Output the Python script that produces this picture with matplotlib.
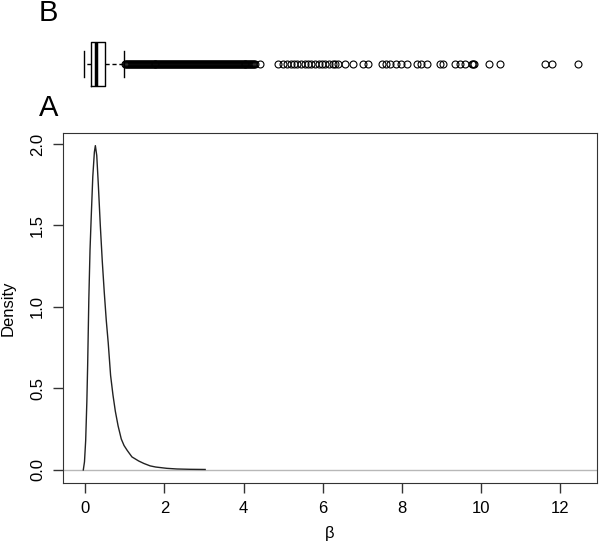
import matplotlib
matplotlib.use("Agg")
import matplotlib.pyplot as plt

plt.rcParams['font.family'] = ['Liberation Sans', 'DejaVu Sans']

# density curve of beta
beta_x = [-0.05, -0.02, 0.01, 0.04, 0.06, 0.09, 0.12, 0.15, 0.19, 0.23, 0.255,
          0.29, 0.33, 0.38, 0.43, 0.48, 0.53, 0.58, 0.64, 0.70, 0.76, 0.83,
          0.91, 0.98, 1.06, 1.18, 1.35, 1.48, 1.64, 1.78, 2.06, 2.32, 2.65, 3.03]
density = [0.0, 0.05, 0.18, 0.42, 0.64, 1.05, 1.35, 1.55, 1.80, 1.95, 1.99,
           1.93, 1.75, 1.50, 1.28, 1.09, 0.92, 0.78, 0.58, 0.46, 0.36, 0.27,
           0.19, 0.15, 0.12, 0.08, 0.055, 0.04, 0.025, 0.018, 0.01, 0.006,
           0.004, 0.003]

# boxplot summary
box_low = -0.03
box_q1 = 0.14
box_med = 0.27
box_q3 = 0.49
box_high = 0.97

# outliers: the dense run between 1 and 4.3, then the scattered ones
outliers = [
    1.000, 1.025, 1.050, 1.075, 1.100, 1.125, 1.150, 1.175, 1.200, 1.225,
    1.250, 1.275, 1.300, 1.325, 1.350, 1.375, 1.400, 1.425, 1.450, 1.475,
    1.500, 1.525, 1.550, 1.575, 1.600, 1.625, 1.650, 1.675, 1.700, 1.725,
    1.750, 1.775, 1.800, 1.825, 1.850, 1.875, 1.900, 1.925, 1.950, 1.975,
    2.000, 2.025, 2.050, 2.075, 2.100, 2.125, 2.150, 2.175, 2.200, 2.225,
    2.250, 2.275, 2.300, 2.325, 2.350, 2.375, 2.400, 2.425, 2.450, 2.475,
    2.500, 2.525, 2.550, 2.575, 2.600, 2.625, 2.650, 2.675, 2.700, 2.725,
    2.750, 2.775, 2.800, 2.825, 2.850, 2.875, 2.900, 2.925, 2.950, 2.975,
    3.000, 3.025, 3.050, 3.075, 3.100, 3.125, 3.150, 3.175, 3.200, 3.225,
    3.250, 3.275, 3.300, 3.325, 3.350, 3.375, 3.400, 3.425, 3.450, 3.475,
    3.500, 3.525, 3.550, 3.575, 3.600, 3.625, 3.650, 3.675, 3.700, 3.725,
    3.750, 3.775, 3.800, 3.825, 3.850, 3.875, 3.900, 3.925, 3.950, 3.975,
    4.000, 4.025, 4.050, 4.075, 4.100, 4.125, 4.150, 4.175, 4.200, 4.225,
    4.250, 4.275, 4.300,
    4.42, 4.88, 5.00, 5.10, 5.20, 5.28, 5.35, 5.45, 5.55, 5.62,
    5.70, 5.80, 5.90, 5.98, 6.05, 6.15, 6.25, 6.32, 6.40, 6.57, 6.77,
    7.02, 7.15, 7.50, 7.60, 7.71, 7.86, 7.98, 8.14, 8.39, 8.49, 8.64,
    8.97, 9.05, 9.35, 9.47, 9.60, 9.78, 9.80, 9.82, 10.21, 10.49,
    11.62, 11.80, 12.46]

x_ticks = [0, 2, 4, 6, 8, 10, 12]
y_ticks = [0.0, 0.5, 1.0, 1.5, 2.0]
xlim = (-0.563, 12.935)

fig = plt.figure(figsize=(6.0, 5.46), dpi=100)

# panel A: density
ax = fig.add_axes([63 / 600, 1 - 483 / 546, 534 / 600, 350 / 546])
ax.axhline(0, color='#b8b8b8', lw=1)
ax.plot(beta_x, density, color='#222222', lw=1)
ax.set_xlim(*xlim)
ax.set_ylim(-0.08, 2.0675)
ax.set_xticks(x_ticks)
ax.set_xticklabels([str(t) for t in x_ticks])
ax.set_yticks(y_ticks)
ax.set_yticklabels(['%.1f' % t for t in y_ticks], rotation=90, va='center')
ax.tick_params(length=7, width=1, labelsize=12, pad=6, color='#333333')
for s in ax.spines.values():
    s.set_color('#333333')
ax.set_xlabel('β', fontsize=12, labelpad=7)
ax.set_ylabel('Density', fontsize=12, labelpad=10)
fig.text(39 / 600, 1 - 108 / 546, 'A', fontsize=21, va='center', ha='left')

# panel B: boxplot
bx = fig.add_axes([63 / 600, 1 - 98 / 546, 534 / 600, 68 / 546])
stats = [dict(whislo=box_low, q1=box_q1, med=box_med, q3=box_q3,
              whishi=box_high, fliers=outliers)]
bx.bxp(stats, positions=[0.5], widths=0.66, vert=False,
       boxprops=dict(color='black', lw=1),
       medianprops=dict(color='black', lw=2.5),
       whiskerprops=dict(color='black', lw=1, linestyle=(0, (3, 2))),
       capprops=dict(color='black', lw=1),
       capwidths=0.37,
       flierprops=dict(marker='o', markersize=5, markerfacecolor='none',
                       markeredgecolor='black', markeredgewidth=0.8))
bx.set_xlim(*xlim)
bx.set_ylim(0, 1)
bx.axis('off')
fig.text(39 / 600, 1 - 13 / 546, 'B', fontsize=21, va='center', ha='left')

fig.savefig('out.png', dpi=100)
